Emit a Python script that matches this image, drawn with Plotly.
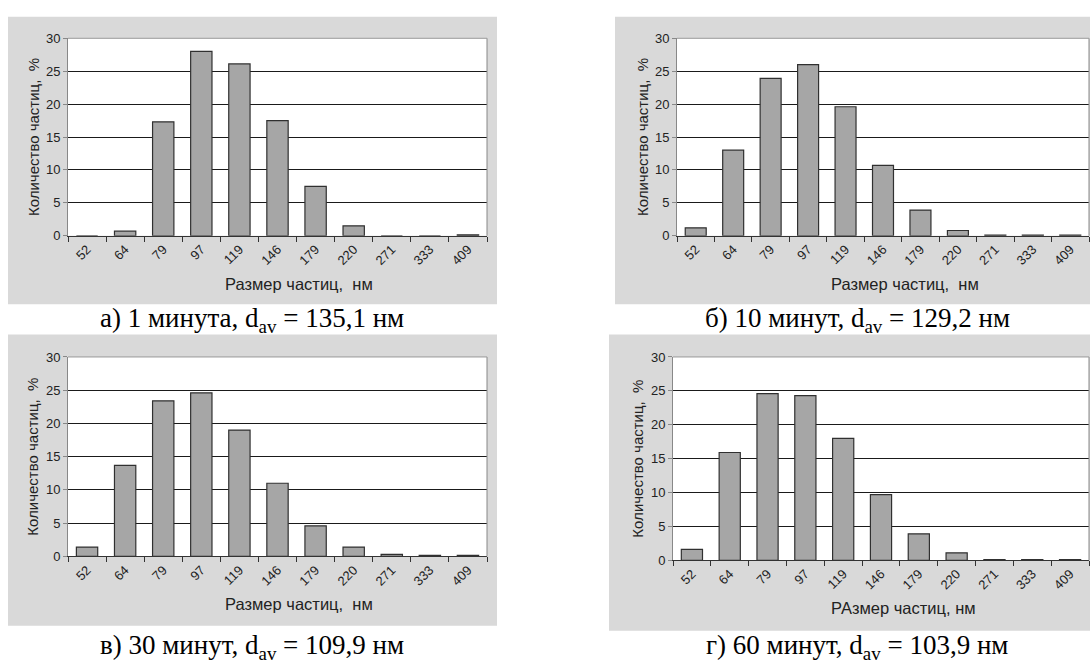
import plotly.graph_objects as go

sizes = ["52", "64", "79", "97", "119", "146", "179", "220", "271", "333", "409"]
pct_1min = [0.0, 0.7, 17.3, 28.0, 26.1, 17.5, 7.5, 1.5, 0.0, 0.0, 0.15]
pct_10min = [1.2, 13.0, 23.9, 26.0, 19.6, 10.7, 3.9, 0.8, 0.1, 0.1, 0.1]
pct_30min = [1.4, 13.7, 23.4, 24.6, 19.0, 11.0, 4.6, 1.4, 0.3, 0.15, 0.15]
pct_60min = [1.6, 15.9, 24.6, 24.3, 18.0, 9.7, 3.9, 1.1, 0.1, 0.1, 0.1]

captions = [
    "а) 1 минута, d<sub>av</sub> = 135,1 нм",
    "б) 10 минут, d<sub>av</sub> = 129,2 нм",
    "в) 30 минут, d<sub>av</sub> = 109,9 нм",
    "г) 60 минут, d<sub>av</sub> = 103,9 нм",
]
xtitles = ["Размер частиц,  нм", "Размер частиц,  нм", "Размер частиц,  нм", "РАзмер частиц, нм"]
ytitle = "Количество частиц,  %"
y_ticks = [0, 5, 10, 15, 20, 25, 30]

W, H = 1090, 668
# pixel layout: plot area (left, right, top, bottom), background (l, r, t, b), caption centre (x, y)
panels = [
    dict(data=pct_1min, plot=(68, 487, 32, 234), bg=(8, 497, 10, 304), cap=(252, 320)),
    dict(data=pct_10min, plot=(677, 1089, 32, 234), bg=(615, 1090, 10, 304), cap=(857, 320)),
    dict(data=pct_30min, plot=(68, 487, 358, 562), bg=(8, 497, 335, 633), cap=(252, 655)),
    dict(data=pct_60min, plot=(673, 1089, 358, 566), bg=(609, 1090, 335, 638), cap=(857, 655)),
]

def px(x):
    return x / W

def py(y):
    return 1 - y / H

fig = go.Figure()
shapes = []
annotations = []
tickfont = dict(family="Liberation Sans, Arial, sans-serif", size=13, color="#222222")
ytitlefont = dict(family="Liberation Sans, Arial, sans-serif", size=15, color="#222222")
xtitlefont = dict(family="Liberation Sans, Arial, sans-serif", size=16.5, color="#222222")

for i, p in enumerate(panels):
    n = "" if i == 0 else str(i + 1)
    l, r, t, b = p["plot"]
    bl, br, bt, bb = p["bg"]
    shapes.append(dict(type="rect", xref="paper", yref="paper", x0=px(bl), x1=px(br),
                       y0=py(bb), y1=py(bt), fillcolor="#D9D9D9", line=dict(width=0), layer="below"))
    shapes.append(dict(type="rect", xref="paper", yref="paper", x0=px(l), x1=px(r),
                       y0=py(b), y1=py(t), fillcolor="#FFFFFF", line=dict(width=0), layer="below"))
    fig.add_trace(go.Bar(x=sizes, y=p["data"], xaxis="x" + n, yaxis="y" + n,
                         marker=dict(color="#A6A6A6", line=dict(color="#303030", width=1.2)),
                         showlegend=False))
    fig.layout["xaxis" + n] = dict(
        domain=[px(l), px(r)], anchor="y" + n, type="category",
        tickangle=-45, ticks="outside", ticklen=5, tickcolor="#333333",
        tickson="boundaries", showgrid=False, showline=True, linecolor="#333333",
        linewidth=1, tickfont=tickfont, mirror=False, fixedrange=True,
    )
    fig.layout["yaxis" + n] = dict(
        domain=[py(b), py(t)], anchor="x" + n, range=[0, 30], tickvals=y_ticks,
        ticks="outside", ticklen=4, tickcolor="#888888", showline=True,
        linecolor="#888888", linewidth=1, showgrid=True, gridcolor="#1a1a1a",
        gridwidth=1, zeroline=False, tickfont=tickfont, fixedrange=True,
    )
    # right and top border of plot area
    shapes.append(dict(type="line", xref="paper", yref="paper", x0=px(r), x1=px(r),
                       y0=py(b), y1=py(t), line=dict(color="#888888", width=1)))
    shapes.append(dict(type="line", xref="paper", yref="paper", x0=px(l), x1=px(r),
                       y0=py(t), y1=py(t), line=dict(color="#999999", width=1)))
    annotations.append(dict(text=ytitle, xref="paper", yref="paper", x=px(l - 35),
                            y=py((t + b) / 2), textangle=-90, showarrow=False,
                            font=ytitlefont, xanchor="center", yanchor="middle"))
    annotations.append(dict(text=xtitles[i], xref="paper", yref="paper",
                            x=px((l + r) / 2 + 22), y=py(b + 49), showarrow=False,
                            font=xtitlefont, xanchor="center", yanchor="middle"))
    annotations.append(dict(text=captions[i], xref="paper", yref="paper",
                            x=px(p["cap"][0]), y=py(p["cap"][1]), showarrow=False,
                            font=dict(family="Liberation Serif, Times New Roman, serif",
                                      size=27, color="#000000"),
                            xanchor="center", yanchor="middle"))

fig.update_layout(
    width=W, height=H, margin=dict(l=0, r=0, t=0, b=0),
    paper_bgcolor="#FFFFFF", plot_bgcolor="rgba(0,0,0,0)",
    bargap=0.44, shapes=shapes, annotations=annotations,
)
fig.write_html("out.html", config={"displayModeBar": False},
               post_script="document.body.style.margin='0';document.body.style.overflow='hidden';")
